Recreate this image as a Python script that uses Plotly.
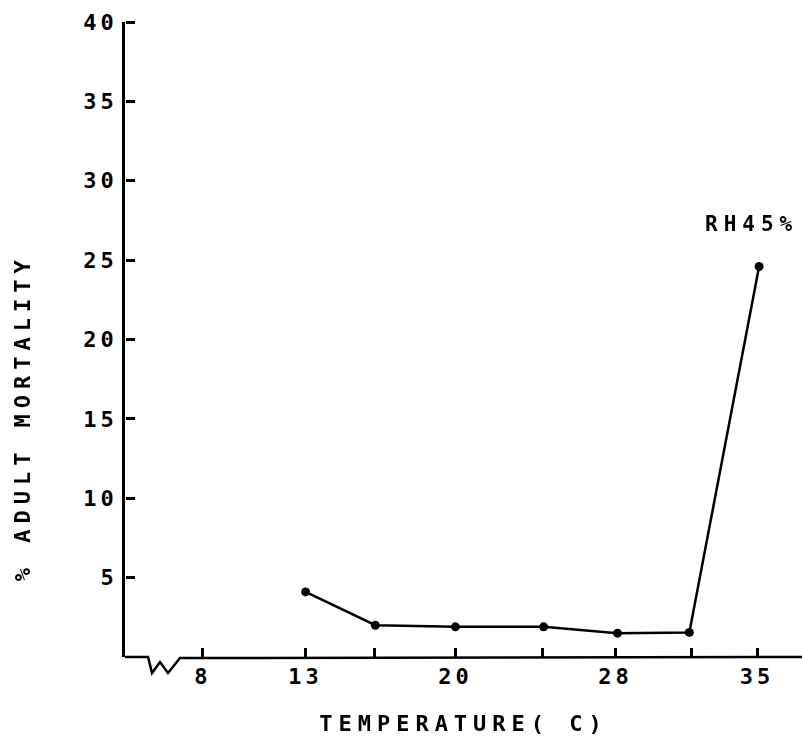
import plotly.graph_objects as go

# Data
temperature = [13.0, 16.4, 20.3, 24.6, 28.2, 31.7, 35.1]
mortality = [4.1, 2.0, 1.9, 1.9, 1.5, 1.55, 24.6]

x_tickvals = [8, 13, 16.35, 20.3, 24.55, 28.1, 31.8, 35.0]
x_ticktext = ["8", "13", "", "20", "", "28", "", "35"]
y_tickvals = [5, 10, 15, 20, 25, 30, 35, 40]
y_ticktext = ["5", "10", "15", "20", "25", "30", "35", "40"]

series_label = "RH45%"
x_title = "TEMPERATURE( C)"
y_title = "% ADULT MORTALITY"

X_RANGE = [4.2, 37.19]
Y_RANGE = [0, 40]

FONT = "DejaVu Sans Mono"
SP = "letter-spacing:4px"
SP_T = "letter-spacing:6px"


def spaced(t, style=SP):
    return f'<span style="{style}">{t}</span>' if t else ""


fig = go.Figure()
# invisible copy on the overlaid axes so their (inward-pointing) ticks are drawn
fig.add_trace(go.Scatter(
    x=temperature, y=mortality, mode="markers", opacity=0,
    xaxis="x2", yaxis="y2", showlegend=False, hoverinfo="skip",
))
fig.add_trace(go.Scatter(
    x=temperature, y=mortality, mode="lines+markers",
    line=dict(color="black", width=2.5),
    marker=dict(color="black", size=9),
    showlegend=False, cliponaxis=False,
))

fig.add_annotation(
    x=temperature[-1], y=mortality[-1], xref="x", yref="y",
    text=spaced(series_label, SP_T), showarrow=False,
    xshift=-8, yshift=42,
    font=dict(family=FONT, size=21, color="black", weight="bold"),
)

fig.add_annotation(
    x=-0.152, y=0.376, xref="paper", yref="paper",
    text=spaced(y_title, SP_T), showarrow=False, textangle=-90,
    xanchor="center", yanchor="middle",
    font=dict(family=FONT, size=22, color="black", weight="bold"),
)

W = 677.0
H = 635.0
def px(xp):
    return (xp - 125) / W
def py(yp):
    return (657 - yp) / H

zig = [(125, 657), (148, 657), (152, 673), (160, 662), (168, 673), (180, 658), (802, 657)]
path = "M " + " L ".join(f"{px(a):.4f},{py(b):.4f}" for a, b in zig)
fig.add_shape(type="path", path=path, xref="paper", yref="paper",
              line=dict(color="black", width=2.5))

tick_style = dict(ticklen=9, tickwidth=2.5, tickcolor="black")

fig.update_layout(
    width=802, height=736,
    margin=dict(l=125, r=0, t=22, b=79),
    paper_bgcolor="white", plot_bgcolor="white",
    font=dict(family=FONT, size=22, color="black"),
    xaxis=dict(
        range=X_RANGE, showgrid=False, zeroline=False, showline=False,
        automargin=False,
        tickmode="array", tickvals=x_tickvals,
        ticktext=[spaced(t) for t in x_ticktext],
        ticks="", ticklabelstandoff=4,
        tickfont=dict(family=FONT, size=22, color="black", weight="bold"),
        title=dict(text=spaced(x_title, SP_T), standoff=30,
                   font=dict(family=FONT, size=22, color="black", weight="bold")),
    ),
    xaxis2=dict(
        overlaying="x", anchor="free", position=0, side="top",
        range=X_RANGE, showgrid=False, zeroline=False, showline=False,
        automargin=False, showticklabels=False,
        tickmode="array", tickvals=x_tickvals, ticks="outside", **tick_style,
    ),
    yaxis=dict(
        range=Y_RANGE, showgrid=False, zeroline=False, automargin=False,
        showline=True, linecolor="black", linewidth=2.5,
        tickmode="array", tickvals=y_tickvals,
        ticktext=[spaced(t) for t in y_ticktext],
        ticks="",
        tickfont=dict(family=FONT, size=22, color="black", weight="bold"),
    ),
    yaxis2=dict(
        overlaying="y", anchor="free", position=0, side="right",
        range=Y_RANGE, showgrid=False, zeroline=False, showline=False,
        automargin=False, showticklabels=False,
        tickmode="array", tickvals=y_tickvals, ticks="outside", **tick_style,
    ),
)

fig.write_html("out.html")
